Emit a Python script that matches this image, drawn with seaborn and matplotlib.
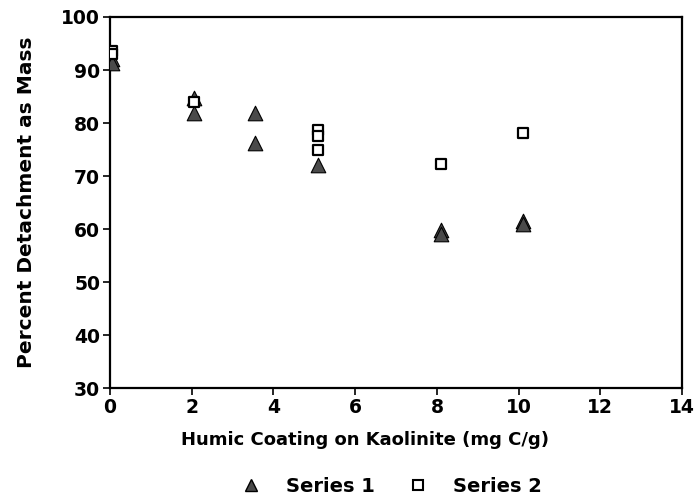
import pandas as pd
import seaborn as sns
import matplotlib.pyplot as plt
from matplotlib.lines import Line2D

# Values
s1_x = [0.05, 0.05, 2.05, 2.05, 3.55, 3.55, 5.1, 8.1, 8.1, 10.1, 10.1]
s1_y = [92.0, 91.3, 84.8, 81.8, 81.8, 76.3, 72.0, 59.8, 59.0, 61.6, 60.9]
s2_x = [0.05, 0.05, 2.05, 5.1, 5.1, 5.1, 8.1, 10.1]
s2_y = [93.6, 93.0, 84.0, 78.6, 77.6, 75.0, 72.3, 78.2]

x_ticks = [0, 2, 4, 6, 8, 10, 12, 14]
y_ticks = [30, 40, 50, 60, 70, 80, 90, 100]

df1 = pd.DataFrame({'x': s1_x, 'y': s1_y})
df2 = pd.DataFrame({'x': s2_x, 'y': s2_y})

sns.set_style('ticks')
plt.rcParams['font.family'] = ['DejaVu Sans']
plt.rcParams['font.weight'] = 'bold'
plt.rcParams['text.color'] = 'black'
plt.rcParams['axes.labelcolor'] = 'black'
plt.rcParams['xtick.color'] = 'black'
plt.rcParams['ytick.color'] = 'black'

fig = plt.figure(figsize=(6.96, 4.99), dpi=100)
ax = fig.add_axes([0.158, 0.222, 0.822, 0.744])

sns.scatterplot(data=df1, x='x', y='y', ax=ax, marker='^', s=110,
                color='#4a4a4a', edgecolor='black', linewidth=0.8, zorder=3)
sns.scatterplot(data=df2, x='x', y='y', ax=ax, marker='s', s=55,
                color='white', edgecolor='black', linewidth=1.6, zorder=4)

ax.set_xlim(0, 14)
ax.set_ylim(30, 100)
ax.set_xticks(x_ticks)
ax.set_yticks(y_ticks)
ax.tick_params(direction='out', length=5, width=1.2, labelsize=13.5, pad=2)
for lab in ax.get_xticklabels() + ax.get_yticklabels():
    lab.set_fontweight('bold')
for sp in ax.spines.values():
    sp.set_visible(True)
    sp.set_linewidth(1.6)
    sp.set_color('black')

ax.set_xlabel('Humic Coating on Kaolinite (mg C/g)', fontsize=13,
              fontweight='bold')
ax.set_ylabel('Percent Detachment as Mass', fontsize=14.5,
              fontweight='bold')
ax.xaxis.set_label_coords(0.446, -0.115)
ax.yaxis.set_label_coords(-0.13, 0.5)

handles = [
    Line2D([], [], marker='^', linestyle='none', markersize=9,
           markerfacecolor='#4a4a4a', markeredgecolor='black'),
    Line2D([], [], marker='s', linestyle='none', markersize=7,
           markerfacecolor='white', markeredgecolor='black', markeredgewidth=1.5),
]
fig.legend(handles, ['Series 1', 'Series 2'], loc='center',
           bbox_to_anchor=(0.563, 0.025), ncol=2, frameon=False,
           prop={'weight': 'bold', 'size': 14}, handlelength=1.0,
           handletextpad=1.3, columnspacing=1.7)

fig.savefig('out.png', dpi=100)
